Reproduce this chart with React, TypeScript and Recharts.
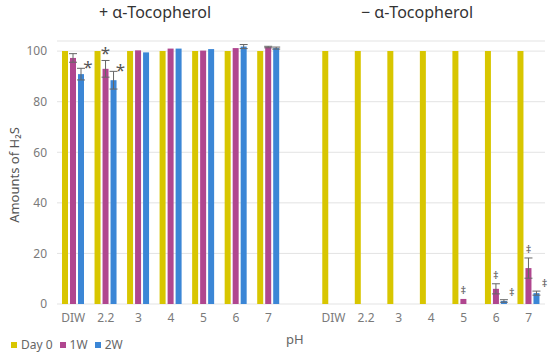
import { BarChart, Bar, XAxis, YAxis, CartesianGrid, ErrorBar } from "recharts";

const categories = ["DIW", "2.2", "3", "4", "5", "6", "7", "", "DIW", "2.2", "3", "4", "5", "6", "7"];
const day0 = [100, 100, 100, 100, 100, 100, 100, null, 100, 100, 100, 100, 100, 100, 100];
const week1 = [97.3, 93, 100.3, 101, 100.2, 101.2, 101.6, null, 0, 0, 0, 0, 2, 6, 14.2];
const week2 = [90.9, 88.5, 99.5, 101, 100.8, 101.8, 101.2, null, 0, 0, 0, 0, 0, 1.2, 4.3];
const week1Err = [1.7, 3.3, null, null, null, null, 0.3, null, null, null, null, null, null, 2, 4];
const week2Err = [2.3, 3.5, null, null, null, 0.8, 0.4, null, null, null, null, null, null, 0.5, 0.8];
const week1Marks = ["", "*", "", "", "", "", "", "", "", "", "", "", "‡", "‡", "‡"];
const week2Marks = ["*", "*", "", "", "", "", "", "", "", "", "", "", "", "‡", "‡"];
const yTicks = [0, 20, 40, 60, 80, 100];

const COLORS = { day0: "#d8c600", w1: "#b0468f", w2: "#3b86d6" };
const FONT = "'Noto Sans', 'Open Sans', sans-serif";

const data = categories.map((c, i) => ({
  name: c,
  day0: day0[i],
  w1: week1[i],
  w2: week2[i],
  w1Err: week1Err[i],
  w2Err: week2Err[i],
  w1Mark: week1Marks[i],
  w2Mark: week2Marks[i],
}));

// bar rect plus its significance mark (* or ‡)
const markedBar = (key: "w1" | "w2", side: "top" | "right") => (props: any) => {
  const { x, y, width, height, fill, payload } = props;
  const value = payload[key];
  const mark = payload[key + "Mark"];
  const err = payload[key + "Err"] || 0;
  let markEl = null;
  if (mark && value) {
    const perUnit = height / value;
    const top = y - err * perUnit;
    const big = mark === "*";
    markEl =
      side === "top" ? (
        <text x={x + width / 2} y={top - (big ? 1 : 5)} textAnchor="middle" fontSize={big ? 17 : 11} fill="#555" fontFamily={FONT}>
          {mark}
        </text>
      ) : (
        <text x={x + width + (big ? 4 : 5)} y={top + (big ? 5 : -4)} textAnchor="middle" fontSize={big ? 17 : 11} fill="#555" fontFamily={FONT}>
          {mark}
        </text>
      );
  }
  return (
    <g>
      {height > 0 && <rect x={x} y={y} width={width} height={height} fill={fill} />}
      {markEl}
    </g>
  );
};

const App = () => {
  return (
    <div style={{ position: "absolute", left: 0, top: 0, width: 550, height: 354, background: "#fff", fontFamily: FONT }}>
      <BarChart
        width={550}
        height={354}
        data={data}
        margin={{ top: 41, right: 5, bottom: 20, left: 13 }}
        barSize={6}
        barGap={2}
      >
        <CartesianGrid vertical={false} stroke="#e3e3e3" />
        <XAxis
          dataKey="name"
          height={30}
          axisLine={false}
          tickLine={false}
          tickSize={0}
          tickMargin={9}
          interval={0}
          tick={{ fontSize: 12, fill: "#7a7a7a", fontFamily: FONT }}
        />
        <YAxis
          domain={[0, 104]}
          ticks={yTicks}
          width={44}
          axisLine={false}
          tickLine={false}
          tickSize={0}
          tickMargin={10}
          tick={{ fontSize: 12, fill: "#7a7a7a", fontFamily: FONT }}
        />
        <Bar dataKey="day0" fill={COLORS.day0} isAnimationActive={false} />
        <Bar dataKey="w1" fill={COLORS.w1} isAnimationActive={false} shape={markedBar("w1", "top")}>
          <ErrorBar dataKey="w1Err" width={4} stroke="#666" strokeWidth={1} direction="y" />
        </Bar>
        <Bar dataKey="w2" fill={COLORS.w2} isAnimationActive={false} shape={markedBar("w2", "right")}>
          <ErrorBar dataKey="w2Err" width={4} stroke="#666" strokeWidth={1} direction="y" />
        </Bar>
      </BarChart>
      <div style={{ position: "absolute", left: 0, top: 1, width: 310, textAlign: "center", fontSize: 16, color: "#333" }}>
        + α-Tocopherol
      </div>
      <div style={{ position: "absolute", left: 302, top: 1, width: 230, textAlign: "center", fontSize: 16, color: "#333" }}>
        − α-Tocopherol
      </div>
      <div
        style={{
          position: "absolute",
          left: 14,
          top: 175,
          transform: "translate(-50%, -50%) rotate(-90deg)",
          whiteSpace: "nowrap",
          fontSize: 13,
          color: "#555",
        }}
      >
        Amounts of H₂S
      </div>
      <div style={{ position: "absolute", left: 286, top: 330, fontSize: 13, color: "#666" }}>pH</div>
      <div style={{ position: "absolute", left: 11, top: 336, display: "flex", alignItems: "center", fontSize: 12, color: "#666" }}>
        {[
          { name: "Day 0", color: COLORS.day0 },
          { name: "1W", color: COLORS.w1 },
          { name: "2W", color: COLORS.w2 },
        ].map((item) => (
          <div key={item.name} style={{ display: "flex", alignItems: "center", marginRight: 7 }}>
            <span style={{ display: "inline-block", width: 6, height: 6, background: item.color, marginRight: 4 }} />
            {item.name}
          </div>
        ))}
      </div>
    </div>
  );
};

export default App;
